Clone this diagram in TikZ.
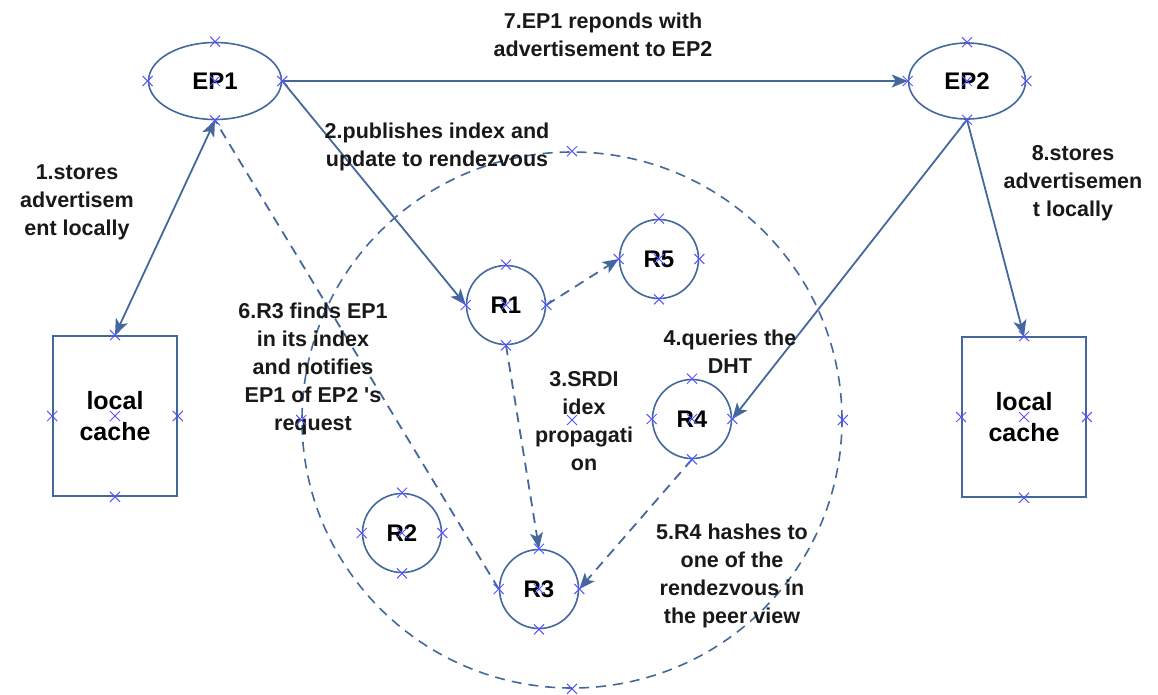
\documentclass[tikz,border=0pt]{standalone}
\usepackage{fontspec}
\setmainfont{Liberation Sans}[Ligatures=TeXOff]
\usetikzlibrary{shapes.geometric,shapes.misc,arrows.meta}
\definecolor{edgeblue}{RGB}{68,104,156}
\definecolor{ptblue}{RGB}{85,85,255}
\begin{document}
\begin{tikzpicture}[x=1pt,y=-1pt,
  shp/.style={draw=edgeblue,line width=1.6pt,inner sep=0pt,fill=white,
    font=\fontsize{24}{28}\selectfont\bfseries},
  ep/.style={shp,ellipse},
  rv/.style={shp,circle,minimum size=79pt},
  cache/.style={shp,rectangle,minimum width=124pt,minimum height=160pt,align=center,
    font=\fontsize{25}{31}\selectfont\bfseries},
  lbl/.style={align=center,font=\fontsize{21.5}{28}\selectfont\bfseries,text=black!90,inner sep=0pt},
  conn/.style={draw=edgeblue,line width=1.8pt},
  dconn/.style={conn,dash pattern=on 10pt off 7pt},
  hd/.tip={Stealth[length=16pt,width=13pt,inset=4pt]},
  tip/.style={-hd},
  xmk/.style={draw=ptblue,cross out,minimum size=9pt,inner sep=0pt,line width=1pt}
]
\useasboundingbox (0,0) rectangle (1158,694);

% rendezvous peer view (dashed ring)
\node[ellipse,draw=edgeblue,line width=1.6pt,dash pattern=on 10pt off 7pt,
  minimum width=540pt,minimum height=536pt,inner sep=0pt] (ring) at (572,420) {};

% edge peers and their caches
\node[ep,minimum width=133pt,minimum height=77pt] (ep1) at (215,81) {EP1};
\node[ep,minimum width=117pt,minimum height=76pt] (ep2) at (967,81) {EP2};
\node[cache] (lc1) at (115,416) {local\\cache};
\node[cache] (lc2) at (1024,417) {local\\cache};

% rendezvous peers
\node[rv] (r1) at (506,305) {R1};
\node[rv] (r5) at (659,259) {R5};
\node[rv] (r4) at (692,419) {R4};
\node[rv] (r2) at (402,533) {R2};
\node[rv] (r3) at (539,589) {R3};

% message flow
\draw[conn,hd-hd] (ep1.south) -- (lc1.north);
\draw[conn,tip] (ep1.east) -- (ep2.west);
\draw[conn,tip] (ep1.east) -- (r1.west);
\draw[conn,tip] (ep2.south) -- (r4.east);
\draw[conn,tip] (ep2.south) -- (lc2.north);
\draw[dconn,tip] (r1.east) -- (r5.west);
\draw[dconn,tip] (r1.south) -- (r3.north);
\draw[dconn,tip] (r4.south) -- (r3.east);
\draw[dconn] (r3.west) -- (ep1.south);

% step labels
\node[lbl] (t1) at (77,202) {1.stores\\advertisem\\ent locally};
\node[lbl] (t2) at (437,147) {2.publishes index and\\update to rendezvous};
\node[lbl] (t3) at (584,421) {3.SRDI\\idex\\propagati\\on};
\node[lbl] (t4) at (730,352) {4.queries the\\DHT};
\node[lbl] (t5) at (732,576) {5.R4 hashes to\\one of the\\rendezvous in\\the peer view};
\node[lbl] (t6) at (313,369) {6.R3 finds EP1\\in its index\\and notifies\\EP1 of EP2 's\\request};
\node[lbl] (t7) at (603,35) {7.EP1 reponds with\\advertisement to EP2};
\node[lbl] (t8) at (1073,183) {8.stores\\advertisemen\\t locally};

% connection points
\foreach \n in {ring,ep1,ep2,lc1,lc2,r1,r2,r3,r4,r5}
  \foreach \a in {north,south,east,west,center}
    \node[xmk] at (\n.\a) {};
\end{tikzpicture}
\end{document}
